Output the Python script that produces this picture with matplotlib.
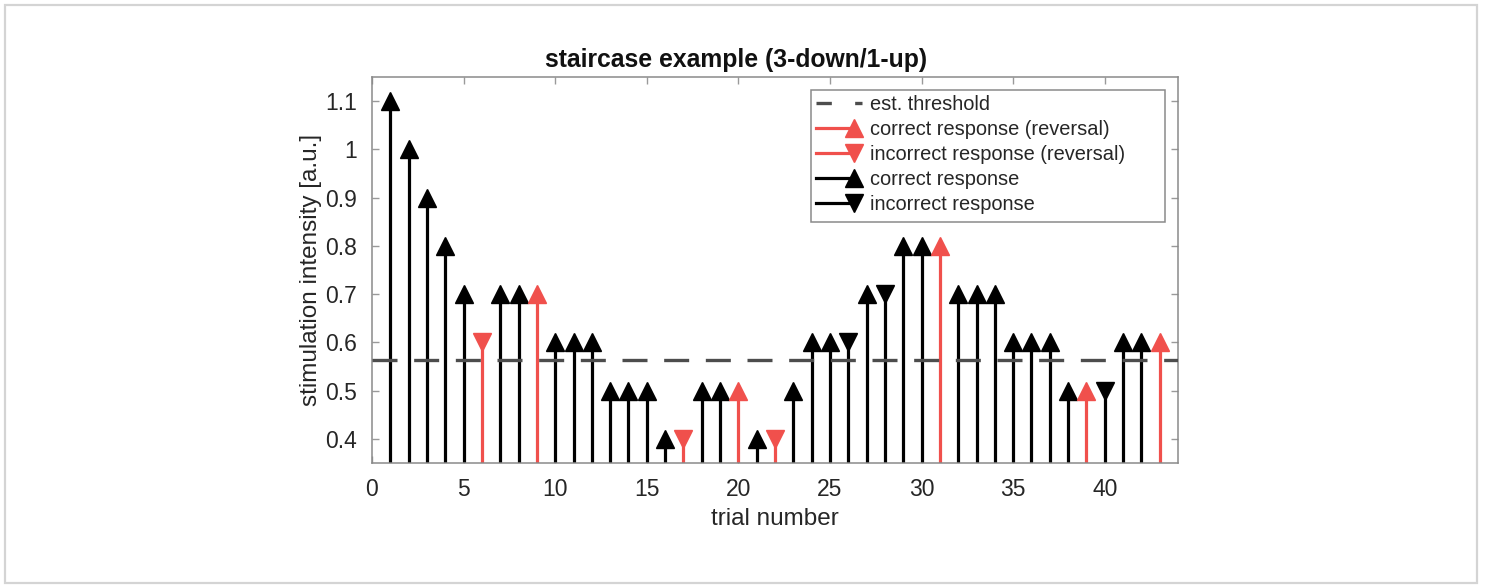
import matplotlib
matplotlib.use("Agg")
import matplotlib.pyplot as plt
from matplotlib.lines import Line2D
from matplotlib.legend_handler import HandlerBase
from matplotlib.patches import Rectangle

plt.rcParams['font.family'] = ['Liberation Sans', 'DejaVu Sans']

# ---- data ----
trials = list(range(1, 44))
intensity = [1.1, 1.0, 0.9, 0.8, 0.7, 0.6, 0.7, 0.7, 0.7, 0.6,
             0.6, 0.6, 0.5, 0.5, 0.5, 0.4, 0.4, 0.5, 0.5, 0.5,
             0.4, 0.4, 0.5, 0.6, 0.6, 0.6, 0.7, 0.7, 0.8, 0.8,
             0.8, 0.7, 0.7, 0.7, 0.6, 0.6, 0.6, 0.5, 0.5, 0.5,
             0.6, 0.6, 0.6]
# 1 = correct, 0 = incorrect
correct = [1, 1, 1, 1, 1, 0, 1, 1, 1, 1,
           1, 1, 1, 1, 1, 1, 0, 1, 1, 1,
           1, 0, 1, 1, 1, 0, 1, 0, 1, 1,
           1, 1, 1, 1, 1, 1, 1, 1, 1, 0,
           1, 1, 1]
reversal_trials = [6, 9, 17, 20, 22, 31, 39, 43]
threshold = 0.5625

title = "staircase example (3-down/1-up)"
xlabel = "trial number"
ylabel = "stimulation intensity [a.u.]"
xticks = [0, 5, 10, 15, 20, 25, 30, 35, 40]
yticks = [0.4, 0.5, 0.6, 0.7, 0.8, 0.9, 1.0, 1.1]
yticklabels = ["0.4", "0.5", "0.6", "0.7", "0.8", "0.9", "1", "1.1"]
legend_labels = ["est. threshold", "correct response (reversal)",
                 "incorrect response (reversal)", "correct response",
                 "incorrect response"]

RED = '#F0504C'
BLACK = '#000000'
GRAY = '#8a8a8a'
LW = 2.3
MS = 13

fig = plt.figure(figsize=(14.86, 5.88), dpi=100)
# outer light frame
fig.patches.append(Rectangle((5 / 1486, 5 / 588), 1472 / 1486, 578 / 588,
                             transform=fig.transFigure, fill=False,
                             edgecolor='#d4d4d4', linewidth=1.6))

AX_L, AX_T, AX_W, AX_H = 372, 77, 806, 386
ax = fig.add_axes([AX_L / 1486, 1 - (AX_T + AX_H) / 588, AX_W / 1486, AX_H / 588])
ax.set_xlim(0, 44)
ax.set_ylim(0.35, 1.15)

for t, v, c in zip(trials, intensity, correct):
    col = RED if t in reversal_trials else BLACK
    ax.vlines(t, 0.35, v, color=col, lw=LW, zorder=2)
    ax.plot([t], [v], marker='^' if c else 'v', ms=MS, color=col,
            mec=col, linestyle='none', zorder=3)

ax.plot([0, 44], [threshold, threshold], color='#4d4d4d', lw=2.4,
        dashes=[7.5, 5], zorder=4)

ax.set_xticks(xticks)
ax.set_yticks(yticks)
ax.set_yticklabels(yticklabels)
ax.tick_params(direction='in', length=5, width=1, colors='#9a9a9a',
               labelcolor='#262626', labelsize=16.5, top=True, right=True)
ax.tick_params(axis='x', pad=11)
ax.tick_params(axis='y', pad=11)
for s in ax.spines.values():
    s.set_color(GRAY)
    s.set_linewidth(1.1)

ax.set_xlabel(xlabel, fontsize=17.5, color='#262626')
ax.xaxis.set_label_coords(0.5, -(530 - AX_H - AX_T) / AX_H)
ax.xaxis.label.set_va('bottom')
ax.set_ylabel(ylabel, fontsize=17.5, color='#262626')
ax.yaxis.set_label_coords(-(AX_L - 322) / AX_W, 0.5)
fig.text(736 / 1486, 1 - 60 / 588, title, fontsize=17.8, fontweight='bold',
         ha='center', va='center', color='#111111')


class StemHandler(HandlerBase):
    def __init__(self, color, marker, dashed=False):
        super().__init__()
        self.color = color
        self.marker = marker
        self.dashed = dashed

    def create_artists(self, legend, orig_handle, xdescent, ydescent,
                       width, height, fontsize, trans):
        y = height / 2 - ydescent
        x0 = -xdescent
        x1 = width - xdescent
        if self.dashed:
            ln = Line2D([x0, x1], [y, y], color='#4d4d4d', lw=2.4,
                        dashes=[4.6, 7.0], transform=trans)
            return [ln]
        ln = Line2D([x0, x1 - 6], [y, y], color=self.color, lw=LW,
                    transform=trans)
        mk = Line2D([x1 - 6], [y], marker=self.marker, ms=MS,
                    color=self.color, linestyle='none', transform=trans)
        return [ln, mk]


handles = [Line2D([], []) for _ in range(5)]
hmap = {
    handles[0]: StemHandler('#4d4d4d', None, dashed=True),
    handles[1]: StemHandler(RED, '^'),
    handles[2]: StemHandler(RED, 'v'),
    handles[3]: StemHandler(BLACK, '^'),
    handles[4]: StemHandler(BLACK, 'v'),
}
# legend frame drawn separately (MATLAB-style extra room on the right)
LG_L, LG_T, LG_R, LG_B = 811, 90, 1165, 222
ax.add_patch(Rectangle(((LG_L - AX_L) / AX_W, 1 - (LG_B - AX_T) / AX_H),
                       (LG_R - LG_L) / AX_W, (LG_B - LG_T) / AX_H,
                       transform=ax.transAxes, facecolor='white',
                       edgecolor=GRAY, lw=1.1, zorder=5))
leg = ax.legend(handles, legend_labels, handler_map=hmap,
                loc='upper left',
                bbox_to_anchor=((LG_L + 2 - AX_L) / AX_W, 1 - (LG_T + 2 - AX_T) / AX_H),
                borderaxespad=0, fontsize=14.4, frameon=False,
                handlelength=2.3, handletextpad=0.42,
                labelspacing=0.3, borderpad=0.15)
leg.set_zorder(6)
for txt in leg.get_texts():
    txt.set_color('#262626')

fig.savefig("out.png", dpi=100)
